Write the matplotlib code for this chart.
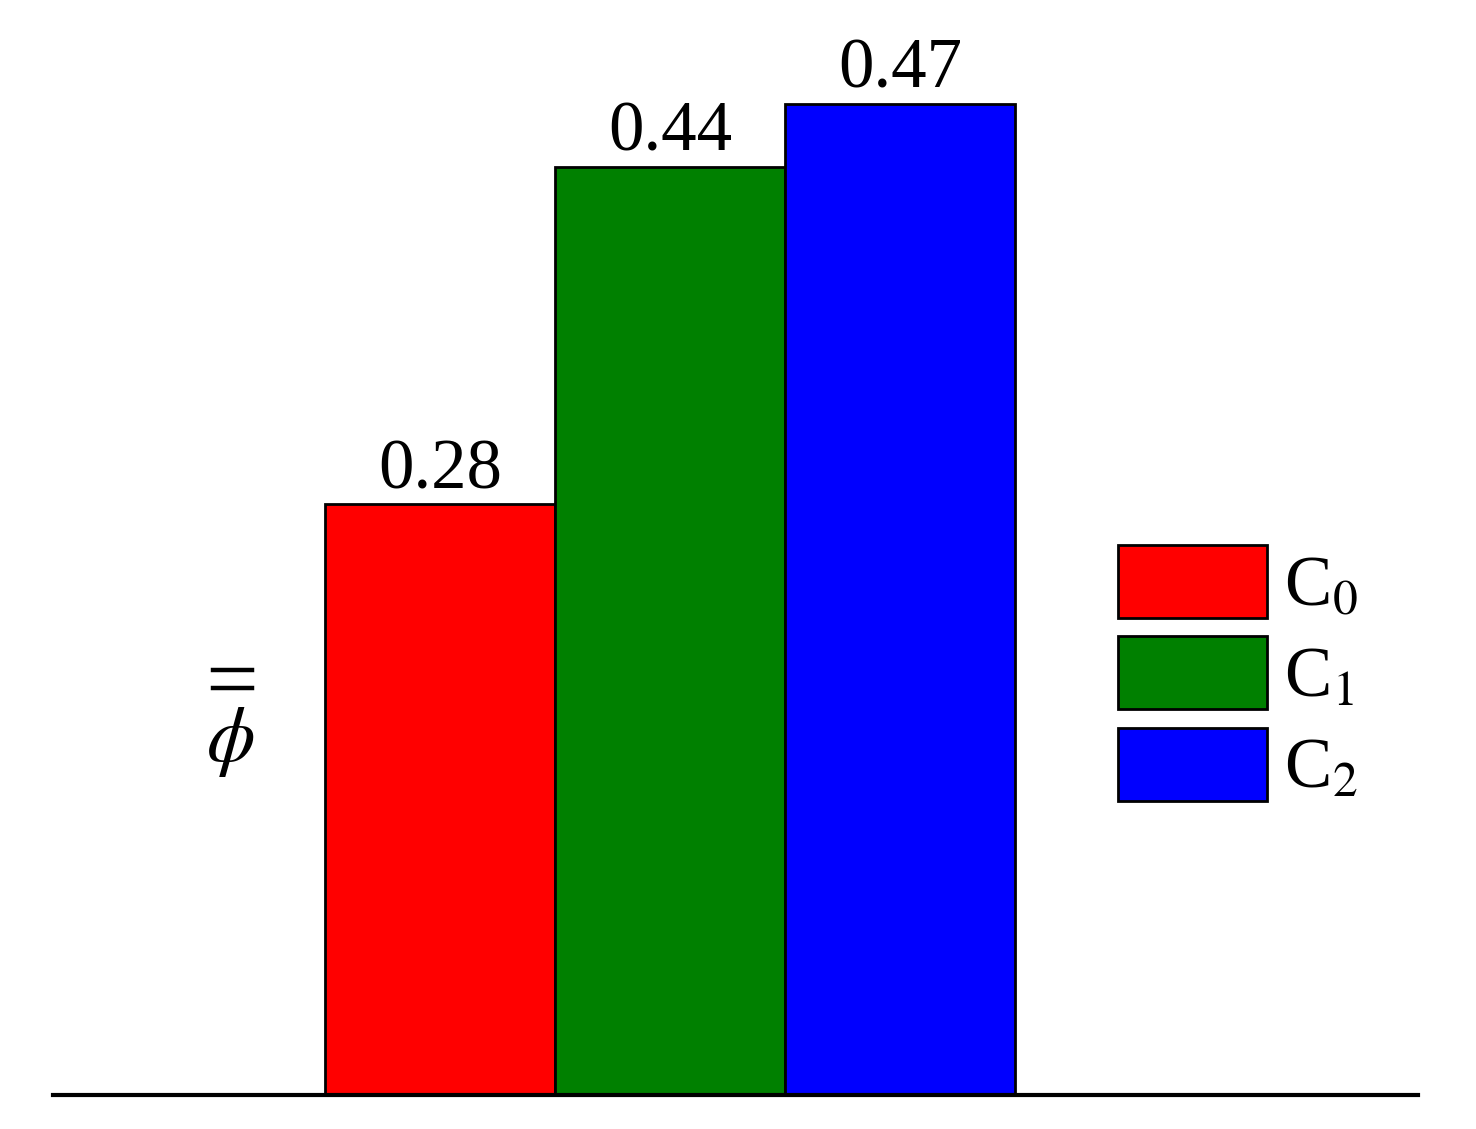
import numpy as np
import matplotlib
matplotlib.use("Agg")
import matplotlib.pyplot as plt
from matplotlib.lines import Line2D

plt.rcParams["font.family"] = ["Liberation Serif", "DejaVu Serif"]
plt.rcParams["mathtext.fontset"] = "stix"

# data
labels = ["C$_0$", "C$_1$", "C$_2$"]
values = [0.28, 0.44, 0.47]
colors = ["#ff0000", "#008000", "#0000ff"]

W, H = 1476, 1129
fig = plt.figure(figsize=(W / 100, H / 100), dpi=100)
ax = fig.add_axes([53 / W, 1 - 1095 / H, 1365 / W, 1095 / H])

x = np.arange(len(values))
bars = ax.bar(x, values, width=1.0, color=colors, edgecolor="black",
              linewidth=2, label=labels)
ax.bar_label(bars, labels=[f"{v:.2f}" for v in values], fontsize=51, padding=1)

ax.set_xlim(-1.683, 4.252)
ax.set_ylim(0, 1095 / 2109)
for s in ["top", "left", "right"]:
    ax.spines[s].set_visible(False)
ax.spines["bottom"].set_linewidth(3)
ax.set_xticks([])
ax.set_yticks([])

# y label: phi with a double bar on top
fig.text(230 / W, 1 - 742 / H, r"$\phi$", fontsize=56, ha="center", va="center")
for yy in (670, 688):
    fig.add_artist(Line2D([213 / W, 252 / W], [1 - yy / H, 1 - yy / H],
                          color="black", linewidth=3.2, transform=fig.transFigure))

leg = ax.legend(handles=list(bars), labels=labels, loc="center left",
                bbox_to_anchor=(1118 / W, 1 - 674 / H),
                bbox_transform=fig.transFigure, frameon=False, fontsize=51,
                handlelength=2.1, handleheight=1.2, labelspacing=0.23,
                handletextpad=0.24, borderpad=0, borderaxespad=0)

fig.savefig("out.png", dpi=100)
